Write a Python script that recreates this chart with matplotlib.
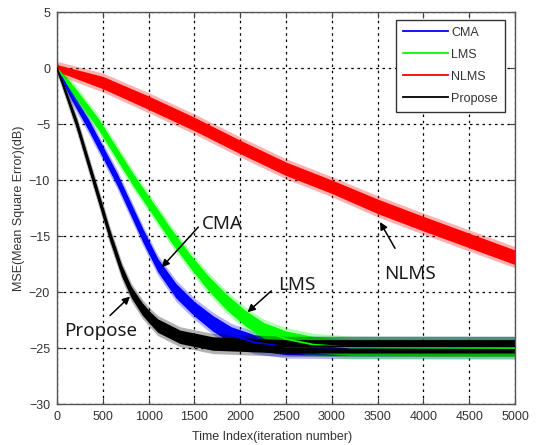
import matplotlib
matplotlib.use("Agg")
import matplotlib.pyplot as plt

# curve centres (iteration, dB) and band half-widths (dB)
x_cma = [0, 160, 340, 660, 940, 1100, 1300, 1500, 1700, 1900, 2150, 2500, 3000, 5000]
y_cma = [0, -2.5, -5, -10, -15, -17.6, -19.9, -21.5, -22.8, -23.8, -24.5, -24.9, -24.95, -24.95]
s_cma = [0.2, 0.4, 0.5, 0.55, 0.6, 0.6, 0.65, 0.65, 0.7, 0.7, 0.7, 0.7, 0.7, 0.7]

x_lms = [0, 200, 451, 833, 1250, 1450, 1650, 1850, 2050, 2250, 2500, 2800, 3200, 5000]
y_lms = [0, -2.2, -5, -10, -15, -17.2, -19.2, -20.9, -22.3, -23.4, -24.2, -24.7, -24.95, -25.0]
s_lms = [0.2, 0.4, 0.5, 0.55, 0.6, 0.6, 0.65, 0.7, 0.7, 0.7, 0.72, 0.72, 0.72, 0.72]

x_nlms = [0, 500, 1000, 1500, 2000, 2500, 3000, 3500, 4000, 4500, 5000]
y_nlms = [0, -1.3, -3.1, -5.0, -7.05, -9.0, -10.6, -12.35, -13.9, -15.4, -16.9]
s_nlms = [0.3, 0.55, 0.6, 0.6, 0.6, 0.6, 0.6, 0.65, 0.65, 0.65, 0.65]

x_prop = [0, 215, 397, 579, 706, 810, 930, 1015, 1100, 1343, 1700, 2500, 5000]
y_prop = [0, -5, -10, -15, -18.1, -20, -21.5, -22.3, -23.0, -24.0, -24.6, -24.85, -24.85]
s_prop = [0.2, 0.45, 0.5, 0.5, 0.5, 0.5, 0.55, 0.55, 0.6, 0.6, 0.6, 0.6, 0.6]

names = ["CMA", "LMS", "NLMS", "Propose"]
colors = ["#0000ff", "#00ff00", "#ff0000", "#000000"]

# annotation labels: (text, text pos, arrow tail, arrow head)
notes = [
    ("CMA", (1800, -14.4), (1543, -14.2), (1143, -17.8)),
    ("LMS", (2620, -19.8), (2340, -19.9), (2080, -21.8)),
    ("NLMS", (3854, -18.8), (3690, -16.1), (3526, -13.75)),
    ("Propose", (478, -23.9), (579, -22.1), (797, -20.4)),
]

fig = plt.figure(figsize=(5.4, 4.45), dpi=100)
ax = fig.add_axes([0.10556, 0.09213, 0.84815, 0.88090])

series = [(x_cma, y_cma, s_cma), (x_lms, y_lms, s_lms),
          (x_nlms, y_nlms, s_nlms), (x_prop, y_prop, s_prop)]
for (xs, ys, ss), name, c in zip(series, names, colors):
    lo = [y - s for y, s in zip(ys, ss)]
    hi = [y + s for y, s in zip(ys, ss)]
    lo2 = [y - s - 0.3 for y, s in zip(ys, ss)]
    hi2 = [y + s + 0.3 for y, s in zip(ys, ss)]
    ax.fill_between(xs, lo2, hi2, color=c, lw=0, alpha=0.3, zorder=2)
    ax.fill_between(xs, lo, hi, color=c, lw=0, zorder=2)
    ax.plot(xs, ys, color=c, lw=1.3, label=name, zorder=3)

for txt, tpos, tail, head in notes:
    ax.text(tpos[0], tpos[1], txt, ha="center", va="baseline",
            fontsize=13.5, family="Noto Sans", color="#1a1a1a", zorder=5)
    ax.annotate("", xy=head, xytext=tail,
                arrowprops=dict(arrowstyle="-|>", color="k", lw=1.1,
                                mutation_scale=11, shrinkA=0, shrinkB=0),
                zorder=5)

ax.set_xlim(0, 5000)
ax.set_ylim(-30, 5)
ax.set_xticks(range(0, 5001, 500))
ax.set_yticks(range(-30, 6, 5))
ax.grid(True, color="k", linestyle=(0, (2, 3)), linewidth=0.9)
ax.set_axisbelow(True)
ax.tick_params(direction="in", top=True, right=True, length=4,
               labelsize=9, colors="#444444", labelcolor="#333333")
ax.tick_params(axis="y", pad=5)
ax.tick_params(axis="x", pad=5)
for lab in ax.get_xticklabels() + ax.get_yticklabels():
    lab.set_family("Liberation Sans")
for sp in ax.spines.values():
    sp.set_color("#555555")
    sp.set_linewidth(1.0)

ax.set_xlabel("Time Index(iteration number)", fontsize=9,
              family="Liberation Sans", color="#333333")
ax.xaxis.set_label_coords(0.47, -0.068)
ax.set_ylabel("MSE(Mean Square Error)(dB)", fontsize=9,
              family="Liberation Sans", color="#333333")
ax.yaxis.set_label_coords(-0.07, 0.5)

leg = ax.legend(loc="upper right", bbox_to_anchor=(0.978, 0.98),
                borderaxespad=0, fancybox=False, framealpha=1,
                edgecolor="#333333", handlelength=3.6,
                handletextpad=0.3, labelspacing=0.8, borderpad=0.55,
                prop={"family": "Liberation Sans", "size": 9})
leg.get_frame().set_linewidth(1.0)
for t in leg.get_texts():
    t.set_color("#333333")

fig.savefig("out.png", dpi=100)
